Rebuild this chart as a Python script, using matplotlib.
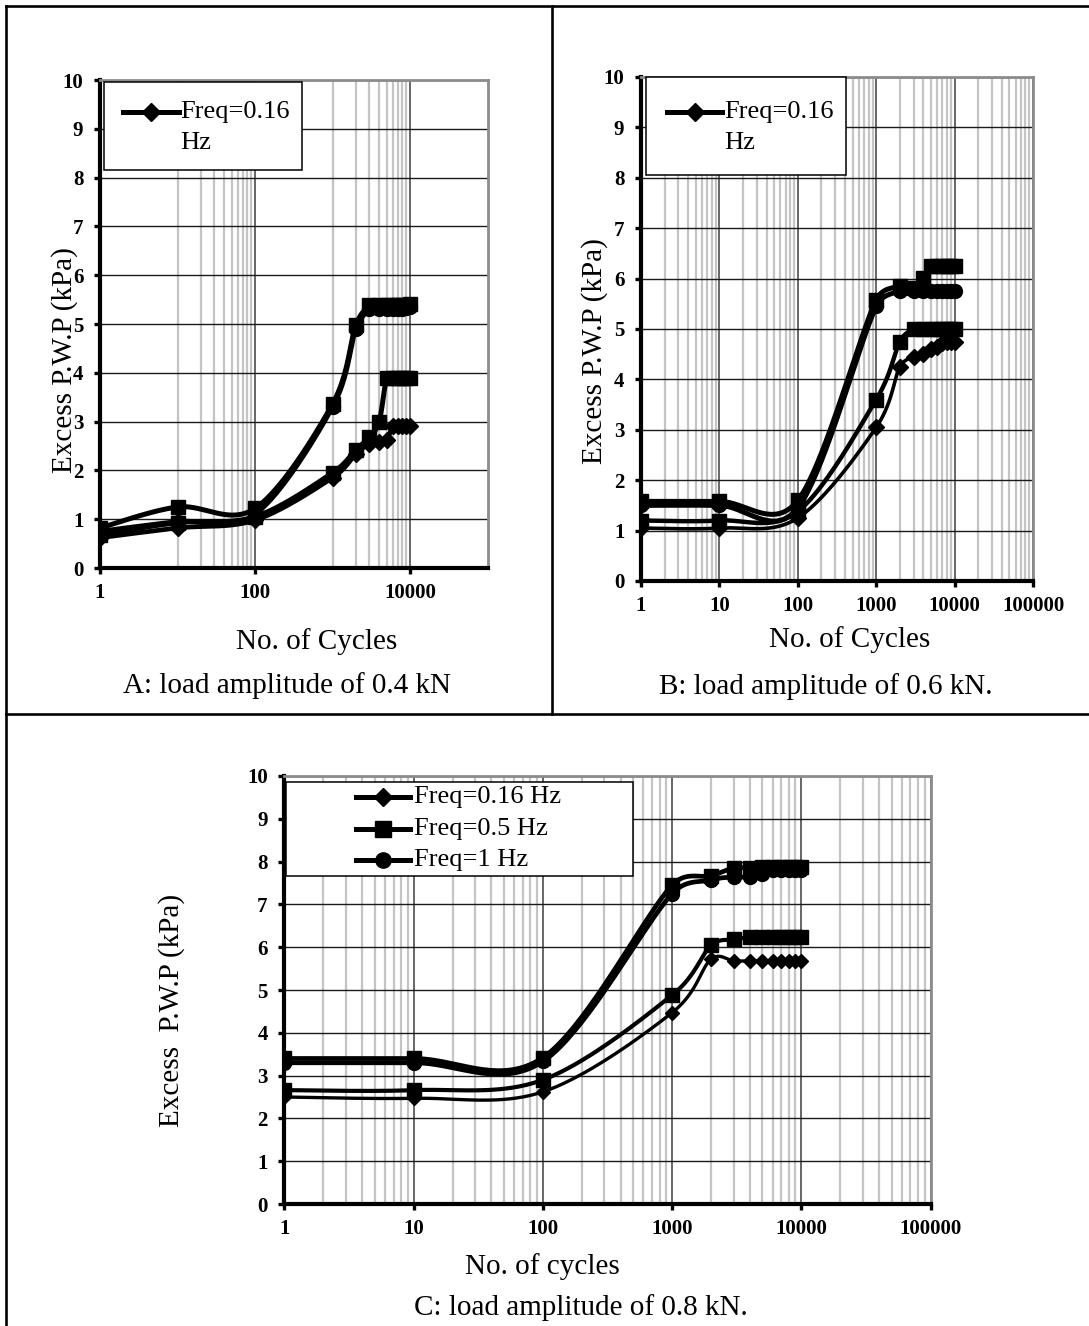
import numpy as np
import matplotlib
matplotlib.use("Agg")
import matplotlib.pyplot as plt
from matplotlib.lines import Line2D
from matplotlib.patches import Rectangle

plt.rcParams['font.family'] = ['Liberation Serif', 'DejaVu Serif']

# number of cycles at which pore pressure was read
cycles = [1, 10, 100, 1000, 2000, 3000, 4000, 5000, 6000, 7000, 8000, 9000, 10000]

# A: load amplitude 0.4 kN
a_016 = [0.62, 0.82, 0.98, 1.85, 2.33, 2.55, 2.58, 2.63, 2.9, 2.9, 2.9, 2.9, 2.9]
a_05 = [0.68, 0.93, 1.05, 1.95, 2.42, 2.68, 3.0, 3.9, 3.9, 3.9, 3.9, 3.9, 3.9]
a_1 = [0.75, 0.95, 1.1, 3.3, 4.9, 5.3, 5.3, 5.3, 5.3, 5.3, 5.3, 5.32, 5.35]
a_4 = [0.82, 1.25, 1.22, 3.36, 4.98, 5.38, 5.38, 5.38, 5.38, 5.38, 5.38, 5.38, 5.4]

# B: load amplitude 0.6 kN
b_016 = [1.05, 1.05, 1.25, 3.05, 4.25, 4.45, 4.5, 4.6, 4.65, 4.72, 4.75, 4.75, 4.75]
b_05 = [1.2, 1.2, 1.38, 3.6, 4.75, 5.0, 5.0, 5.0, 5.0, 5.0, 5.0, 5.0, 5.0]
b_1 = [1.5, 1.5, 1.45, 5.45, 5.75, 5.75, 5.75, 5.75, 5.75, 5.75, 5.75, 5.75, 5.75]
b_4 = [1.58, 1.58, 1.6, 5.58, 5.85, 5.82, 6.02, 6.25, 6.25, 6.25, 6.25, 6.25, 6.25]

# C: load amplitude 0.8 kN
c_016 = [2.5, 2.47, 2.62, 4.47, 5.72, 5.68, 5.68, 5.68, 5.68, 5.68, 5.68, 5.68, 5.68]
c_05 = [2.66, 2.66, 2.9, 4.88, 6.04, 6.18, 6.23, 6.23, 6.23, 6.23, 6.23, 6.23, 6.23]
c_1 = [3.3, 3.3, 3.33, 7.25, 7.57, 7.64, 7.64, 7.72, 7.8, 7.8, 7.8, 7.8, 7.8]
c_4 = [3.4, 3.4, 3.42, 7.45, 7.67, 7.85, 7.85, 7.88, 7.88, 7.88, 7.88, 7.88, 7.88]

W, H = 1089, 1326


def fx(p):
    return p / W


def fy(p):
    return 1 - p / H


def smooth(x, y, aspect, n=40):
    # smoothed line as cubic Bezier segments through the points, worked out in
    # screen-like units (log x stretched by aspect); control arms are capped at
    # half the chord so short segments do not overshoot
    pts = np.column_stack([np.log10(x) * aspect, y])
    out = [pts[:1]]
    t = np.linspace(0, 1, n)[1:, None]
    for i in range(len(pts) - 1):
        p0 = pts[max(i - 1, 0)]
        p1 = pts[i]
        p2 = pts[i + 1]
        p3 = pts[min(i + 2, len(pts) - 1)]
        chord = np.hypot(*(p2 - p1))
        a1 = (p2 - p0) / 6
        a2 = (p3 - p1) / 6
        for a in (a1, a2):
            la = np.hypot(*a)
            if la > 0.5 * chord:
                a *= 0.5 * chord / la
        c1 = p1 + a1
        c2 = p2 - a2
        seg = (1 - t) ** 3 * p1 + 3 * (1 - t) ** 2 * t * c1 + 3 * (1 - t) * t ** 2 * c2 + t ** 3 * p2
        out.append(seg)
    arr = np.vstack(out)
    return 10 ** (arr[:, 0] / aspect), arr[:, 1]


def setup(ax, base100):
    ax.set_xscale('log')
    ax.set_xlim(1, 1e5)
    ax.set_ylim(0, 10)
    if base100:
        major = [1, 100, 10000]
        minor = [m * 10 ** k for k in (0, 2) for m in range(10, 100, 10)]
    else:
        major = [10 ** k for k in range(6)]
        minor = [m * 10 ** k for k in range(5) for m in range(2, 10)]
    ax.set_xticks(major)
    ax.set_xticklabels(['%d' % v for v in major], fontweight='bold', fontsize=15)
    ax.set_xticks(minor, minor=True)
    ax.set_xticklabels([], minor=True)
    ax.set_yticks(range(11))
    ax.set_yticklabels([str(v) for v in range(11)], fontweight='bold', fontsize=15)
    ax.tick_params(which='major', direction='out', length=4, width=2.4)
    ax.tick_params(axis='x', which='major', pad=7)
    ax.tick_params(axis='y', which='major', pad=8)
    ax.tick_params(which='minor', length=0)
    ax.grid(True, which='minor', axis='x', color='#c4c4c4', lw=1.6)
    ax.grid(True, which='major', axis='x', color='#4d4d4d', lw=1.2)
    ax.grid(True, which='major', axis='y', color='#1a1a1a', lw=1.0)
    ax.set_axisbelow(True)
    for s in ('left', 'bottom'):
        ax.spines[s].set_linewidth(3)
        ax.spines[s].set_color('k')
    for s in ('top', 'right'):
        ax.spines[s].set_linewidth(2)
        ax.spines[s].set_color('#8c8c8c')


def draw(ax, y, marker, ms, lw, aspect):
    sx, sy = smooth(cycles, y, aspect)
    ax.plot(sx, sy, color='k', lw=lw, solid_capstyle='round', zorder=3)
    ax.plot(cycles, y, ls='none', marker=marker, ms=ms, color='k', zorder=4)


def key(box, rows, fs):
    l, t, r, b = box
    fig.add_artist(Rectangle((fx(l), fy(b)), (r - l) / W, (b - t) / H,
                             transform=fig.transFigure, facecolor='white',
                             edgecolor='k', lw=1.1))
    for marker, ms, x0, x1, tx, y, text in rows:
        fig.add_artist(Line2D([fx(x0), fx(x1)], [fy(y), fy(y)], color='k', lw=3.6,
                              transform=fig.transFigure))
        fig.add_artist(Line2D([fx((x0 + x1) / 2)], [fy(y)], color='k', marker=marker,
                              ms=ms, ls='none', transform=fig.transFigure))
        for j, line in enumerate(text.split('\n')):
            fig.text(fx(tx), fy(y + 31 * j), line, fontsize=fs, ha='left', va='center')


def place(l, t, r, b):
    return fig.add_axes([fx(l), fy(b), (r - l) / W, (b - t) / H])


fig = plt.figure(figsize=(W / 100, H / 100), dpi=100)

# panel A
axA = place(100, 80, 487.5, 568)
setup(axA, True)
draw(axA, a_016, 'D', 8, 3.4, 1.6)
draw(axA, a_05, 's', 10, 3.6, 1.6)
draw(axA, a_1, 'o', 10, 3.6, 1.6)
draw(axA, a_4, 's', 10, 3.6, 1.6)

# panel B
axB = place(641, 77, 1033, 581)
setup(axB, False)
draw(axB, b_016, 'D', 8, 2.6, 1.56)
draw(axB, b_05, 's', 10, 3.2, 1.56)
draw(axB, b_1, 'o', 10, 3.6, 1.56)
draw(axB, b_4, 's', 10, 3.6, 1.56)

# panel C
axC = place(284.4, 776, 930.5, 1204)
setup(axC, False)
draw(axC, c_016, 'D', 7, 2.4, 3.0)
draw(axC, c_05, 's', 10, 3.0, 3.0)
draw(axC, c_1, 'o', 10, 3.4, 3.0)
draw(axC, c_4, 's', 10, 3.4, 3.0)

key((103.5, 82, 302, 170), [('D', 9, 123, 179, 180, 112, 'Freq=0.16\nHz')], 19)
key((646, 77, 846, 175), [('D', 9, 667, 722, 724, 112, 'Freq=0.16\nHz')], 19)
key((286, 782, 633, 876), [('D', 9, 356, 410, 414, 797, 'Freq=0.16 Hz'),
                           ('s', 11, 356, 410, 414, 829, 'Freq=0.5 Hz'),
                           ('o', 11, 356, 410, 414, 860, 'Freq=1 Hz')], 19)

# axis titles and captions
fig.text(fx(65), fy(360), 'Excess P.W.P (kPa)', rotation=90, fontsize=21, ha='center', va='center')
fig.text(fx(595), fy(351), 'Excess P.W.P (kPa)', rotation=90, fontsize=21, ha='center', va='center')
fig.text(fx(172), fy(1010), 'Excess  P.W.P (kPa)', rotation=90, fontsize=21, ha='center', va='center')
fig.text(fx(317), fy(642), 'No. of Cycles', fontsize=21, ha='center', va='center')
fig.text(fx(850), fy(640), 'No. of Cycles', fontsize=21, ha='center', va='center')
fig.text(fx(542), fy(1267), 'No. of cycles', fontsize=21, ha='center', va='center')
fig.text(fx(287), fy(686), 'A: load amplitude of 0.4 kN', fontsize=21, ha='center', va='center')
fig.text(fx(826), fy(687), 'B: load amplitude of 0.6 kN.', fontsize=21, ha='center', va='center')
fig.text(fx(581), fy(1308), 'C: load amplitude of 0.8 kN.', fontsize=21, ha='center', va='center')

# table rules around the panels
for xs, ys in [((6, W), (6, 6)), ((6, 6), (6, H)), ((552, 552), (6, 714)), ((6, W), (714, 714))]:
    fig.add_artist(Line2D([fx(xs[0]), fx(xs[1])], [fy(ys[0]), fy(ys[1])],
                          color='k', lw=1.9, transform=fig.transFigure))

fig.savefig('out.png', dpi=100)
